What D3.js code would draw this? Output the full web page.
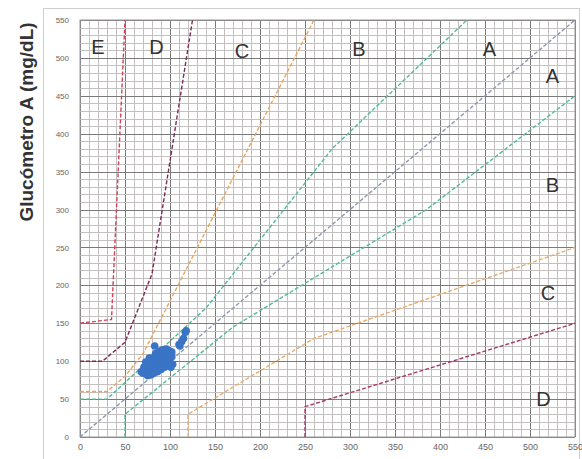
<!DOCTYPE html>
<html>
<head>
<meta charset="utf-8">
<script src="https://cdn.jsdelivr.net/npm/d3@7"></script>
<style>
  body { margin: 0; background: #fff; }
  svg { display: block; font-family: Arial, "Liberation Sans", sans-serif; }
</style>
</head>
<body>
<svg id="chart" width="582" height="459"></svg>
<script>
// tick labels (mg/dL)
var tickValues = [0, 50, 100, 150, 200, 250, 300, 350, 400, 450, 500, 550];

// zone boundaries, [reference, meter]
var upperA = [[0, 50], [30, 50], [140, 170], [280, 380], [430, 550]];
var lowerA = [[50, 0], [50, 30], [170, 145], [385, 300], [550, 450]];
var identity = [[0, 0], [550, 550]];
var upperB = [[0, 60], [30, 60], [50, 80], [70, 110], [260, 550]];
var lowerB = [[120, 0], [120, 30], [260, 130], [550, 250]];
var upperC = [[0, 100], [25, 100], [50, 125], [80, 215], [125, 550]];
var lowerC = [[250, 0], [250, 40], [550, 150]];
var upperD = [[0, 150], [35, 155], [50, 550]];

// zone letters
var zoneNames = ['E', 'D', 'C', 'B', 'A', 'A', 'B', 'C', 'D'];
var zoneX = [20, 85, 180, 310, 455, 525, 525, 520, 515];
var zoneY = [515, 515, 510, 512, 512, 476, 333, 190, 51];

// readings: reference vs. meter A
var refVals = [70, 72, 74, 75, 76, 78, 78, 80, 80, 82, 82, 84, 84, 85, 86, 86, 88, 88, 89, 90,
  90, 92, 92, 93, 94, 95, 96, 97, 98, 99, 100, 100, 102, 83, 110, 113, 115, 117, 118, 77,
  73, 81, 87, 95, 79, 91, 97, 111,
  68, 71, 76, 80, 84, 88, 92, 96, 100, 102, 98, 94, 90, 86, 82, 79, 75, 103, 101, 77, 73];
var meterVals = [84, 88, 86, 92, 90, 95, 88, 92, 98, 96, 102, 94, 100, 106, 98, 104, 100, 108, 95, 103,
  110, 98, 106, 112, 102, 108, 100, 114, 105, 110, 104, 108, 112, 120, 122, 126, 130, 138, 140, 82,
  94, 86, 90, 96, 100, 114, 98, 120,
  86, 92, 98, 104, 110, 113, 115, 116, 113, 106, 96, 92, 89, 86, 84, 82, 81, 96, 92, 104, 99];

var svg = d3.select('#chart');

var x = d3.scaleLinear().domain([0, 550]).range([80, 575]);
var y = d3.scaleLinear().domain([0, 550]).range([437, 20]);

// outer frame
svg.append('rect')
  .attr('x', 43.5).attr('y', 8.5)
  .attr('width', 536).attr('height', 460)
  .attr('fill', '#fff')
  .attr('stroke', '#cfcfcf');

svg.append('defs').append('clipPath').attr('id', 'plot')
  .append('rect')
  .attr('x', x(0)).attr('y', y(550))
  .attr('width', x(550) - x(0)).attr('height', y(0) - y(550));

var grid = svg.append('g');
var minor = d3.range(0, 551, 10);

grid.selectAll('.vx')
  .data(minor)
  .enter()
  .append('line')
  .attr('x1', function(d) { return Math.round(x(d)) + 0.5; })
  .attr('x2', function(d) { return Math.round(x(d)) + 0.5; })
  .attr('y1', y(0)).attr('y2', y(550))
  .attr('stroke', function(d) { return d % 50 == 0 ? '#7a7a7a' : '#c4c0c0'; })
  .attr('stroke-width', 1);

grid.selectAll('.hy')
  .data(minor)
  .enter()
  .append('line')
  .attr('y1', function(d) { return Math.round(y(d)) + 0.5; })
  .attr('y2', function(d) { return Math.round(y(d)) + 0.5; })
  .attr('x1', x(0)).attr('x2', x(550))
  .attr('stroke', function(d) { return d % 50 == 0 ? '#7a7a7a' : '#c4c0c0'; })
  .attr('stroke-width', 1);

svg.append('rect')
  .attr('x', x(0)).attr('y', y(550))
  .attr('width', x(550) - x(0)).attr('height', y(0) - y(550))
  .attr('fill', 'none')
  .attr('stroke', '#9a9a9a');

// boundary lines
var line = d3.line()
  .x(function(d) { return x(d[0]); })
  .y(function(d) { return y(d[1]); });

var bounds = [
  { pts: upperD, color: '#d2405a' },
  { pts: upperC, color: '#7e2a55' },
  { pts: lowerC, color: '#a8386a' },
  { pts: upperB, color: '#eba45c' },
  { pts: lowerB, color: '#e9ac6c' },
  { pts: upperA, color: '#52bb98' },
  { pts: lowerA, color: '#52bb98' },
  { pts: identity, color: '#8d98b0' }
];

svg.append('g')
  .attr('clip-path', 'url(#plot)')
  .selectAll('path')
  .data(bounds)
  .enter()
  .append('path')
  .attr('d', function(d) { return line(d.pts); })
  .attr('fill', 'none')
  .attr('stroke', function(d) { return d.color; })
  .attr('stroke-width', 1.4)
  .attr('stroke-dasharray', '4,2');

// points
svg.append('g')
  .selectAll('circle')
  .data(refVals)
  .enter()
  .append('circle')
  .attr('cx', function(d) { return x(d); })
  .attr('cy', function(d, i) { return y(meterVals[i]); })
  .attr('r', 3.8)
  .attr('fill', '#3a74c6');

// zone letters
svg.append('g')
  .selectAll('text')
  .data(zoneNames)
  .enter()
  .append('text')
  .attr('x', function(d, i) { return x(zoneX[i]); })
  .attr('y', function(d, i) { return y(zoneY[i]); })
  .attr('dy', '0.36em')
  .attr('text-anchor', 'middle')
  .attr('font-size', 20)
  .attr('fill', '#333')
  .text(function(d) { return d; });

// axes
var xAxis = svg.append('g')
  .attr('transform', 'translate(0,' + (y(0) + 4) + ')')
  .call(d3.axisBottom(x).tickValues(tickValues).tickSize(0).tickPadding(3));
xAxis.select('.domain').remove();
xAxis.selectAll('text').attr('font-size', 9).attr('fill', '#666');

var yAxis = svg.append('g')
  .attr('transform', 'translate(' + (x(0) - 11) + ',0)')
  .call(d3.axisLeft(y).tickValues(tickValues).tickSize(0).tickPadding(0));
yAxis.select('.domain').remove();
yAxis.selectAll('text').attr('font-size', 8).attr('fill', '#666');

svg.append('text')
  .attr('transform', 'translate(33,' + 122 + ') rotate(-90)')
  .attr('text-anchor', 'middle')
  .attr('font-size', 19)
  .attr('font-weight', 'bold')
  .attr('fill', '#333')
  .text('Glucómetro A  (mg/dL)');
</script>
</body>
</html>
